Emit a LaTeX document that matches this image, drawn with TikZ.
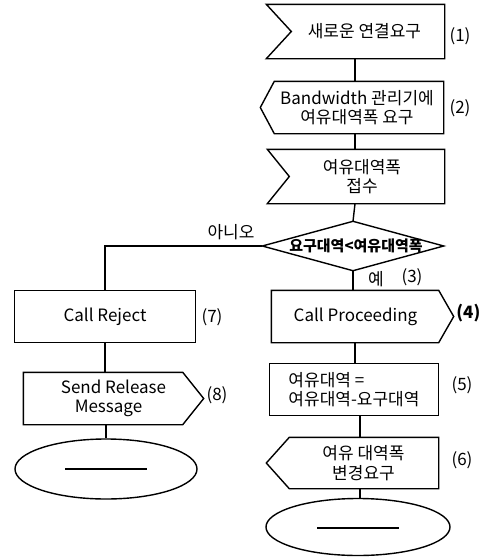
\documentclass[tikz,border=0pt]{standalone}
\usepackage{fontspec}
\setmainfont{Noto Sans CJK KR}
\usetikzlibrary{calc,shapes.geometric}
\begin{document}
\begin{tikzpicture}[x=1pt,y=-1pt,line width=1.4pt,
  body/.style={rectangle,draw=none,inner sep=0pt,align=center,font=\fontsize{17}{19.5}\selectfont},
  lab/.style={inner sep=0pt,font=\fontsize{17}{19}\selectfont},
  cond/.style={inner sep=0pt,font=\fontsize{15}{16}\selectfont\bfseries}]
\useasboundingbox (0,0) rectangle (483,558);
\coordinate (col) at (355,0);
\coordinate (colb) at (360,0);
% right column
\node[body,minimum width=177,minimum height=53] (n1) at (355.5,31.5) {\hspace*{18pt}새로운 연결요구};
\draw (n1.north west) -- (n1.north east) -- (n1.south east) -- (n1.south west) -- ($(n1.west)+(25,0)$) -- cycle;
\node[lab] (l1) at (460,36) {(1)};

\node[body,minimum width=182,minimum height=51] (n2) at (352,107.5) {\hspace*{10pt}Bandwidth 관리기에\\\hspace*{10pt}여유대역폭 요구};
\draw (n2.north east) -- (n2.south east) -- ($(n2.south west)+(14,0)$) -- (n2.west) -- ($(n2.north west)+(14,0)$) -- cycle;
\node[lab] (l2) at (460,108) {(2)};

\node[body,minimum width=176,minimum height=53] (n3) at (356,176.5) {\hspace*{12pt}여유대역폭\\\hspace*{12pt}접수};
\draw (n3.north west) -- (n3.north east) -- (n3.south east) -- (n3.south west) -- ($(n3.west)+(22,0)$) -- cycle;

\node[cond,minimum width=180,minimum height=48] (d) at (353,246) {\hspace*{6pt}요구대역<여유대역폭};
\draw (d.north) -- (d.east) -- (d.south) -- (d.west) -- cycle;
\node[lab] (no) at (231,232) {아니오};
\node[lab] (yes) at (376,279) {예};
\node[lab] (l3) at (412,277) {(3)};

\node[body,minimum width=181,minimum height=51] (cp) at (362.5,316.5) {Call Proceeding\hspace*{14pt}};
\draw (cp.north west) -- ($(cp.north east)+(-15,0)$) -- (cp.east) -- ($(cp.south east)+(-15,0)$) -- (cp.south west) -- cycle;
\node[lab,anchor=east] (l4) at (481,313) {\bfseries(4)};

\node[body,minimum width=168,minimum height=51,align=left] (b5) at (354,389.5) {여유대역 =\\여유대역-요구대역};
\draw (b5.north west) rectangle (b5.south east);
\node[lab] (l5) at (462,385) {(5)};

\node[body,minimum width=171,minimum height=50] (s6) at (352.5,463) {\hspace*{22pt}여유 대역폭\\\hspace*{22pt}변경요구};
\draw (s6.north east) -- (s6.south east) -- ($(s6.south west)+(23,0)$) -- (s6.west) -- ($(s6.north west)+(23,0)$) -- cycle;
\node[lab] (l6) at (462,460) {(6)};

\node[ellipse,draw,minimum width=184,minimum height=57,inner sep=0pt] (e2) at (358,527) {};
\draw ($(e2.center)+(-41,1)$) -- ($(e2.center)+(41,1)$);

% left column
\node[body,minimum width=180,minimum height=51] (cr) at (105,316.5) {Call Reject};
\draw (cr.north west) rectangle (cr.south east);
\node[lab] (l7) at (212,317) {(7)};

\node[body,minimum width=179,minimum height=51] (s8) at (113.5,398.5) {Send Release\\Message\hspace*{10pt}};
\draw (s8.north west) -- ($(s8.north east)+(-21,0)$) -- (s8.east) -- ($(s8.south east)+(-21,0)$) -- (s8.south west) -- cycle;
\node[lab] (l8) at (217,395) {(8)};

\node[ellipse,draw,minimum width=182,minimum height=60,inner sep=0pt] (e1) at (106,469) {};
\draw ($(e1.center)+(-41,0)$) -- ($(e1.center)+(41,0)$);

% connectors
\draw (n1.south -| col) -- (n2.north -| col);
\draw (n2.south -| col) -- (n3.north -| col);
\draw (n3.south -| col) -- (d.north);
\draw (d.south) -- (d.south |- cp.north);
\draw (cp.south -| col) -- (b5.north -| col);
\draw (b5.south -| colb) -- (s6.north -| colb);
\draw (s6.south -| colb) -- (e2.north -| colb);
\draw (d.west) -| (cr.north);
\draw (cr.south) -- (cr.south |- s8.north);
\draw (e1.north |- s8.south) -- (e1.north);
\end{tikzpicture}
\end{document}
